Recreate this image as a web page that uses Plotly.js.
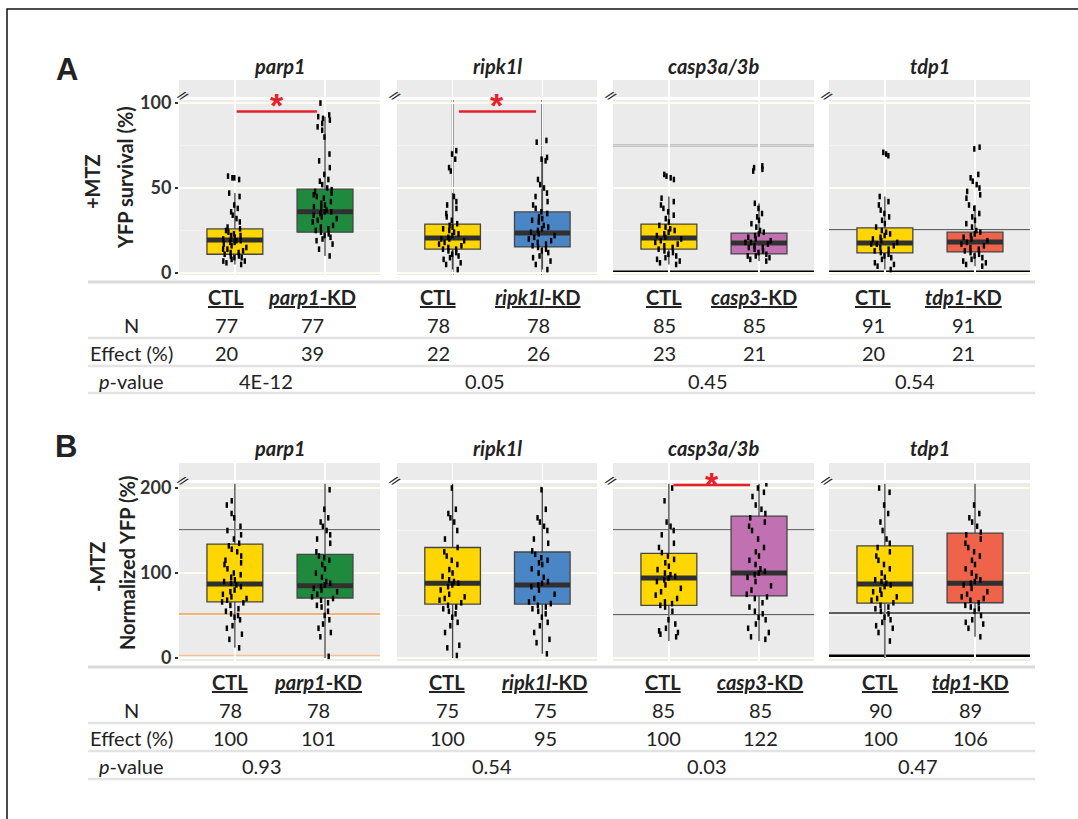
<!DOCTYPE html>
<html><head><meta charset="utf-8">
<script src="https://cdn.plot.ly/plotly-3.0.1.min.js"></script>
<style>html,body{margin:0;padding:0;background:#fff}</style>
</head><body><div id="chart" style="width:1078px;height:819px"></div>
<script>
// ---------------- DATA ----------------
const genes = ['parp1', 'ripk1l', 'casp3a/3b', 'tdp1'];
const kdNames = ['parp1', 'ripk1l', 'casp3', 'tdp1'];
const kdColors = ['#1F8A3E', '#4A85C5', '#C171B1', '#EF634A'];
const ctlColor = '#FFD600';

// Panel A (+MTZ), order: parp1 CTL, parp1-KD, ripk1l CTL, ripk1l-KD, casp3 CTL, casp3-KD, tdp1 CTL, tdp1-KD
const aQ1  = [11, 24, 14, 15.3, 14, 11.2, 11.8, 12.4];
const aMed = [19.4, 36, 20.6, 23.5, 20.6, 17.6, 17.6, 18.2];
const aQ3  = [25.9, 49.4, 28.8, 35.9, 28.8, 23.5, 26.5, 24];
const aLo  = [5, 10, 2, 2, 5, 7, 2, 4];
const aHi  = [47, 92, 47, 68, 45, 41, 45, 40];

// Panel B (-MTZ)
const bQ1  = [66, 70.6, 63.5, 63.5, 62, 73, 64.7, 65];
const bMed = [87, 85, 88, 86, 94, 100, 87, 88];
const bQ3  = [134, 122, 130, 124.7, 123, 167, 132, 147];
const bLo  = [12, 0, 0, 5, 20, 20, 0, 25];
const bHi  = [205, 205, 205, 200, 205, 205, 205, 205];

const ptsA_parp1_ctl = [5,6,7,7,8,9,9,10,10,11,12,12,13,14,14,15,16,17,18,18,19,19,20,20,21,22,22,23,24,25,26,27,30,32,34,36,38,40,45,47,55,56,56,57];
const ptsA_parp1_kd = [10,14,17,19,20,21,22,23,24,25,26,27,28,30,31,32,33,34,35,36,36,37,38,39,40,41,42,44,45,46,47,48,49,50,52,54,55,58,62,66,70,80,84,86,88,90,91,92,93,100];
const ptsA_ripk1l_ctl = [2,5,6,8,9,10,11,12,13,14,14,15,16,17,18,19,20,20,21,22,23,24,25,26,27,28,29,31,33,35,38,40,42,45,60,62,67,70,72];
const ptsA_ripk1l_kd = [2,5,7,9,10,12,13,14,15,16,17,18,19,20,21,22,23,24,25,26,27,28,30,31,32,33,35,36,38,40,42,45,47,50,52,55,66,67,68,77,78];
const ptsA_casp3_ctl = [5,6,7,8,9,10,11,12,13,14,15,16,17,18,19,20,21,22,23,24,25,26,27,28,30,32,34,36,38,40,42,44,55,56,57,58];
const ptsA_casp3_kd = [7,8,9,10,10,11,12,13,14,15,15,16,17,18,18,19,20,21,22,23,24,25,27,29,31,33,35,38,41,60,61,62,63];
const ptsA_tdp1_ctl = [2,4,5,6,8,9,10,11,12,13,14,15,16,17,17,18,19,20,21,22,23,24,25,27,29,31,33,35,37,40,42,45,69,70,71];
const ptsA_tdp1_kd = [4,5,6,7,8,9,10,11,12,13,14,15,16,17,18,19,20,21,22,23,24,25,27,29,31,33,35,38,40,44,46,48,50,52,54,56,58,73,74];

const ptsB_parp1_ctl = [12,22,28,35,38,45,48,50,52,55,58,62,65,66,68,70,72,75,78,80,84,86,88,90,92,95,98,100,105,110,112,115,120,125,128,132,135,140,145,150,155,165,170,180,185];
const ptsB_parp1_kd = [2,25,30,35,40,45,50,55,60,62,65,68,70,72,75,78,80,82,84,86,88,90,95,100,105,110,115,118,120,125,135,140,145,150,155,160,165,175,198];
const ptsB_ripk1l_ctl = [3,12,15,30,38,42,48,52,55,58,60,62,65,68,70,72,75,80,84,86,88,90,92,96,100,104,110,115,120,125,130,140,150,160,165,170,175,200];
const ptsB_ripk1l_kd = [5,18,22,30,38,42,48,52,55,58,60,62,64,66,70,75,80,84,86,88,90,95,100,105,110,112,115,118,122,126,135,140,150,155,160,165,175,198];
const ptsB_casp3_ctl = [25,28,30,32,35,40,45,55,60,62,64,66,70,74,78,82,86,90,92,94,96,98,100,104,108,112,116,120,124,130,135,145,150,155,160,185,200];
const ptsB_casp3_kd = [22,25,30,35,40,45,48,52,55,60,65,70,72,75,80,85,90,95,98,100,102,105,110,115,120,125,130,140,150,155,160,165,170,175,180,190,195,200,205];
const ptsB_tdp1_ctl = [20,30,35,38,42,45,48,52,55,58,60,62,65,68,70,72,75,78,80,84,86,88,90,92,95,100,105,110,115,120,125,130,135,140,150,160,170,180,195,200];
const ptsB_tdp1_kd = [25,35,40,42,45,50,55,58,60,62,65,68,70,72,75,78,82,86,88,90,92,96,100,105,110,115,120,125,130,135,140,145,148,155,160,165,170,180];

// table values
const nA   = [77, 77, 78, 78, 85, 85, 91, 91];
const effA = [20, 39, 22, 26, 23, 21, 20, 21];
const pA   = ['4E-12', '0.05', '0.45', '0.54'];
const nB   = [78, 78, 75, 75, 85, 85, 90, 89];
const effB = [100, 101, 100, 95, 100, 122, 100, 106];
const pB   = ['0.93', '0.54', '0.03', '0.47'];
const rowLabels = ['N', 'Effect (%)', '<i>p</i>-value'];

// ---------------- LAYOUT HELPERS ----------------
const W = 1078, H = 819;
const px = x => x / W;
const py = y => 1 - y / H;
const FONT = 'Lato, "Open Sans", sans-serif';
const colX = [[179, 380], [397, 597], [613, 814], [829, 1030]];
const rows = [
  {main: [100, 275], strip: [80, 97], range: [-1.2, 101.8], ticks: [0, 50, 100], minor: [25, 75], titleY: 66,
   q1: aQ1, med: aMed, q3: aQ3, lo: aLo, hi: aHi,
   pts: [ptsA_parp1_ctl, ptsA_parp1_kd, ptsA_ripk1l_ctl, ptsA_ripk1l_kd, ptsA_casp3_ctl, ptsA_casp3_kd, ptsA_tdp1_ctl, ptsA_tdp1_kd]},
  {main: [483, 661], strip: [463, 480], range: [-3.5, 205.9], ticks: [0, 100, 200], minor: [50, 150], titleY: 448,
   q1: bQ1, med: bMed, q3: bQ3, lo: bLo, hi: bHi,
   pts: [ptsB_parp1_ctl, ptsB_parp1_kd, ptsB_ripk1l_ctl, ptsB_ripk1l_kd, ptsB_casp3_ctl, ptsB_casp3_kd, ptsB_tdp1_ctl, ptsB_tdp1_kd]}
];
const XR = [-0.62, 1.61];

const traces = [];
const layout = {
  width: W, height: H, margin: {l: 0, r: 0, t: 0, b: 0},
  paper_bgcolor: '#ffffff', plot_bgcolor: '#EBEBEB',
  showlegend: false, boxmode: 'overlay',
  font: {family: FONT, color: '#222'},
  annotations: [], shapes: []
};

rows.forEach((R, r) => {
  for (let c = 0; c < 4; c++) {
    const n = r * 4 + c + 1;       // main axis index
    const s = n + 8;               // strip axis index
    const xk = 'xaxis' + n, yk = 'yaxis' + n;
    const cats = ['CTL', kdNames[c] + '-KD'];
    layout[xk] = {domain: [px(colX[c][0]), px(colX[c][1])], anchor: 'y' + n, type: 'category',
      categoryarray: cats, range: XR, showticklabels: false, ticks: '', showgrid: true,
      gridcolor: '#ffffff', gridwidth: 1.5, zeroline: false, showline: false, fixedrange: true};
    layout[yk] = {domain: [py(R.main[1]), py(R.main[0])], anchor: 'x' + n, range: R.range,
      tickvals: R.ticks, showticklabels: c === 0, ticks: c === 0 ? 'outside' : '', ticklen: 3,
      tickcolor: '#333', tickwidth: 1.2,
      tickfont: {family: FONT, size: 18, color: '#333', weight: 'bold'},
      showgrid: true, gridcolor: '#FFFDF0', gridwidth: 1.6, zeroline: false, showline: false,
      minor: {tickvals: R.minor, showgrid: true, gridcolor: '#F6F6F2', gridwidth: 0.8, ticks: ''},
      fixedrange: true};
    layout['xaxis' + s] = {domain: [px(colX[c][0]), px(colX[c][1])], anchor: 'y' + s, range: XR,
      tickvals: [0, 1], showticklabels: false, ticks: '', showgrid: true, gridcolor: '#ffffff',
      gridwidth: 1.5, zeroline: false, fixedrange: true};
    layout['yaxis' + s] = {domain: [py(R.strip[1]), py(R.strip[0])], anchor: 'x' + s, range: [0, 1],
      showticklabels: false, ticks: '', showgrid: false, zeroline: false, fixedrange: true};
    // empty trace so that the broken-axis strip subplot is drawn
    traces.push({type: 'scatter', mode: 'markers', xaxis: 'x' + s, yaxis: 'y' + s, x: [], y: [], hoverinfo: 'skip'});

    for (let k = 0; k < 2; k++) {
      const i = c * 2 + k;
      const fill = k === 0 ? ctlColor : kdColors[c];
      traces.push({type: 'box', xaxis: 'x' + n, yaxis: 'y' + n, x: [cats[k]],
        q1: [R.q1[i]], median: [R.med[i]], q3: [R.q3[i]],
        lowerfence: [R.lo[i]], upperfence: [R.hi[i]],
        width: 0.62, whiskerwidth: 0, boxpoints: false,
        fillcolor: fill, line: {color: '#454545', width: 1.3}, hoverinfo: 'skip'});
      traces.push({type: 'box', xaxis: 'x' + n, yaxis: 'y' + n, x: [cats[k]],
        q1: [R.med[i]], median: [R.med[i]], q3: [R.med[i]],
        lowerfence: [R.med[i]], upperfence: [R.med[i]],
        width: 0.62, whiskerwidth: 0, boxpoints: false,
        fillcolor: 'rgba(0,0,0,0)', line: {color: '#303030', width: 5}, hoverinfo: 'skip'});
      const ys = R.pts[i];
      traces.push({type: 'box', xaxis: 'x' + n, yaxis: 'y' + n, x: ys.map(() => cats[k]), y: ys,
        width: 0.62, boxpoints: 'all', jitter: 0.5, pointpos: 0,
        fillcolor: 'rgba(0,0,0,0)', line: {color: 'rgba(0,0,0,0)', width: 0},
        marker: {symbol: 'line-ns-open', size: 4, color: '#000', line: {color: '#000', width: 2.4}},
        hoverinfo: 'skip'});
    }

    const cx = (colX[c][0] + colX[c][1]) / 2;
    layout.annotations.push({xref: 'paper', yref: 'paper', x: px(cx), y: py(R.titleY),
      text: '<b><i>' + genes[c] + '</i></b>', showarrow: false, font: {family: FONT, size: 20, color: '#222'},
      xanchor: 'center', yanchor: 'middle'});
    layout.annotations.push({xref: 'paper', yref: 'paper', x: px(colX[c][0] + (c === 0 ? 4 : -2)),
      y: py(r === 0 ? 95 : 480), text: '<b>//</b>', showarrow: false, textangle: 35,
      font: {family: FONT, size: 12, color: '#222'}, xanchor: 'center', yanchor: 'middle'});
  }
});

layout.annotations.push(
  {xref: 'paper', yref: 'paper', x: px(67), y: py(69), text: '<b>A</b>', showarrow: false,
   font: {family: 'Liberation Sans, Arial, sans-serif', size: 31, color: '#222'}, xanchor: 'center', yanchor: 'middle'},
  {xref: 'paper', yref: 'paper', x: px(66), y: py(447), text: '<b>B</b>', showarrow: false,
   font: {family: 'Liberation Sans, Arial, sans-serif', size: 31, color: '#222'}, xanchor: 'center', yanchor: 'middle'},
  {xref: 'paper', yref: 'paper', x: px(92), y: py(182), text: '<b>+MTZ</b>', textangle: -90, showarrow: false,
   font: {family: FONT, size: 20, color: '#222'}, xanchor: 'center', yanchor: 'middle'},
  {xref: 'paper', yref: 'paper', x: px(125), y: py(178), text: '<b>YFP survival (%)</b>', textangle: -90, showarrow: false,
   font: {family: FONT, size: 20, color: '#222'}, xanchor: 'center', yanchor: 'middle'},
  {xref: 'paper', yref: 'paper', x: px(97), y: py(567), text: '<b>-MTZ</b>', textangle: -90, showarrow: false,
   font: {family: FONT, size: 20, color: '#222'}, xanchor: 'center', yanchor: 'middle'},
  {xref: 'paper', yref: 'paper', x: px(127), y: py(563), text: '<b>Normalized YFP (%)</b>', textangle: -90, showarrow: false,
   font: {family: FONT, size: 20, color: '#222'}, xanchor: 'center', yanchor: 'middle'}
);

// significance markers (red bar + asterisk); asterisk box top given in pixels
const sig = [{ax: 1, y: 95, x0: 0.02, x1: 0.91, top: 84}, {ax: 2, y: 95, x0: 0.07, x1: 0.93, top: 84},
             {ax: 7, y: 203.5, x0: 0.05, x1: 0.9, top: 463}];
sig.forEach(g => {
  layout.shapes.push({type: 'line', xref: 'x' + g.ax, yref: 'y' + g.ax, x0: g.x0, x1: g.x1, y0: g.y, y1: g.y,
    line: {color: '#E8202A', width: 2.4}});
  layout.annotations.push({xref: 'x' + g.ax, yref: 'paper', x: (g.x0 + g.x1) / 2, y: py(g.top), text: '<b>*</b>',
    showarrow: false, font: {family: 'Liberation Sans, Arial, sans-serif', size: 34, color: '#E8202A'},
    xanchor: 'center', yanchor: 'top'});
});

// artefact lines visible in the scanned panels
const hline = (ax, y, color, width) => layout.shapes.push({type: 'line', xref: 'x' + ax + ' domain', yref: 'y' + ax,
  x0: 0, x1: 1, y0: y, y1: y, line: {color: color, width: width}, layer: 'below'});
const vline = (ax, x, color) => layout.shapes.push({type: 'line', xref: 'x' + ax, yref: 'y' + ax + ' domain',
  x0: x, x1: x, y0: 0, y1: 1, line: {color: color, width: 1.5}, layer: 'below'});
hline(3, 75, '#555', 1.5); hline(3, 0.6, '#000', 3);
hline(4, 25.3, '#333', 1.5); hline(4, 0.6, '#000', 3);
hline(5, 200, '#444', 1.5); hline(5, 150.6, '#444', 1.3); hline(5, 51.8, '#F5A050', 1.3); hline(5, 3, '#F8C090', 1.3);
hline(7, 150.6, '#444', 1.3); hline(7, 50.6, '#333', 1.5);
hline(8, 53, '#333', 1.5); hline(8, 2.4, '#000', 3);
vline(2, 0, '#111'); vline(2, 1, '#111'); vline(4, 0, '#111');

// tables
const tables = [
  {hdr: 297, rowsY: [325, 353, 381], lines: [338, 366, 393], top: 282, n: nA, eff: effA, p: pA,
   cols: [226, 312, 438, 538, 664, 754, 873, 963], pcols: [266, 485, 708, 915]},
  {hdr: 682, rowsY: [710, 738, 766], lines: [723, 751, 779], top: 667, n: nB, eff: effB, p: pB,
   cols: [230, 318, 447, 545, 663, 760, 880, 970], pcols: [262, 492, 707, 918]}
];
tables.forEach(T => {
  layout.shapes.push({type: 'line', xref: 'paper', yref: 'paper', x0: px(88), x1: px(1035), y0: py(T.top), y1: py(T.top),
    line: {color: '#DADADA', width: 3}});
  T.lines.forEach(l => layout.shapes.push({type: 'line', xref: 'paper', yref: 'paper', x0: px(88), x1: px(1035),
    y0: py(l), y1: py(l), line: {color: '#E3E3E3', width: 2.5}}));
  const ann = (x, y, t) => layout.annotations.push({xref: 'paper', yref: 'paper', x: px(x), y: py(y), text: t,
    showarrow: false, font: {family: FONT, size: 20, color: '#222'}, xanchor: 'center', yanchor: 'middle'});
  rowLabels.forEach((lab, j) => ann(131, T.rowsY[j], lab));
  for (let c = 0; c < 4; c++) {
    ann(T.cols[2 * c], T.hdr, '<u><b>CTL</b></u>');
    ann(T.cols[2 * c + 1], T.hdr, '<u><b><i>' + kdNames[c] + '</i>-KD</b></u>');
    ann(T.pcols[c], T.rowsY[2], T.p[c]);
  }
  T.n.forEach((v, i) => ann(T.cols[i], T.rowsY[0], String(v)));
  T.eff.forEach((v, i) => ann(T.cols[i], T.rowsY[1], String(v)));
});

layout.shapes.push({type: 'rect', xref: 'paper', yref: 'paper', x0: px(7), x1: 1.02, y0: -0.02, y1: py(9),
  line: {color: '#111', width: 1.5}, fillcolor: 'rgba(0,0,0,0)'});

Plotly.newPlot('chart', traces, layout, {staticPlot: true, displayModeBar: false});
</script></body></html>
